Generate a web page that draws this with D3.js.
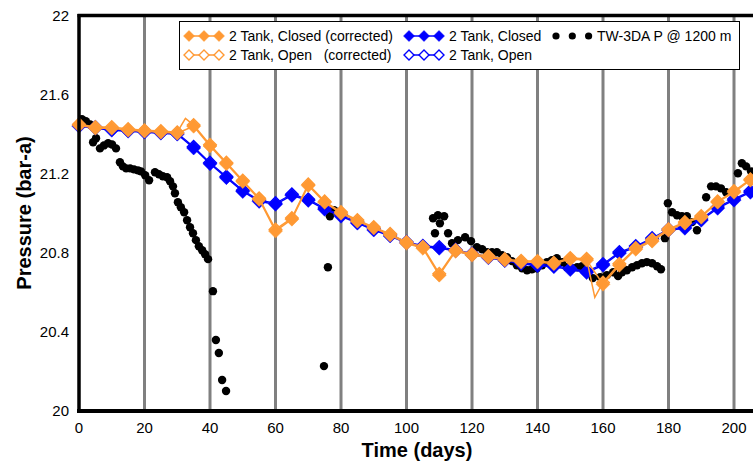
<!DOCTYPE html>
<html><head><meta charset="utf-8">
<script src="https://cdn.jsdelivr.net/npm/d3@7"></script>
<style>
html,body{margin:0;padding:0;background:#fff;}
svg{display:block;font-family:"Liberation Sans",Arial,sans-serif;}
</style></head>
<body><svg id="c" width="753" height="463"></svg>
<script>
// ---- data ----
const simDays = [0,5,10,15,20,25,30,35,40,45,50,55,60,65,70,75,80,85,90,95,100,105,110,115,120,125,130,135,140,145,150,155,160,165,170,175,180,185,190,195,200,205];
const closedCorr = [21.445,21.43,21.43,21.42,21.415,21.41,21.405,21.44,21.34,21.25,21.16,21.07,20.91,20.97,21.14,21.055,21.0,20.96,20.925,20.89,20.848,20.823,20.687,20.808,20.788,20.778,20.763,20.753,20.753,20.745,20.768,20.763,20.641,20.737,20.818,20.859,20.914,20.95,20.98,21.056,21.106,21.167];
const openCorrDays = [0,5,10,15,20,25,30,32.5,35,40,45,50,55,60,65,70,75,80,85,90,95,100,105,110,115,120,125,130,135,140,145,150,155,157.5,160,165,170,175,180,185,190,195,200,205];
const openCorr = [21.45,21.436,21.436,21.426,21.42,21.416,21.41,21.48,21.446,21.346,21.256,21.166,21.076,20.918,20.976,21.146,21.06,21.006,20.966,20.93,20.896,20.854,20.83,20.694,20.814,20.794,20.784,20.768,20.76,20.758,20.75,20.774,20.77,20.575,20.65,20.744,20.824,20.866,20.92,20.956,20.986,21.06,21.112,21.172];
const closed = [21.44,21.43,21.42,21.415,21.41,21.405,21.40,21.33,21.25,21.18,21.11,21.06,21.045,21.09,21.065,21.02,20.985,20.95,20.915,20.885,20.85,20.83,20.823,20.81,20.79,20.775,20.76,20.745,20.735,20.73,20.715,20.70,20.737,20.798,20.828,20.869,20.914,20.924,20.965,21.025,21.066,21.106];
const open = [21.446,21.436,21.426,21.421,21.416,21.411,21.406,21.336,21.256,21.186,21.116,21.066,21.051,21.096,21.071,21.026,20.991,20.956,20.921,20.891,20.856,20.836,20.829,20.816,20.796,20.781,20.766,20.751,20.741,20.736,20.721,20.706,20.743,20.804,20.834,20.875,20.92,20.93,20.971,21.031,21.072,21.112];
const obsDays = [0.9,2.1,3.4,4.3,5.2,6.4,7.6,8.9,10.1,11.3,12.5,13.4,14.4,15.6,16.8,18.0,18.9,20.2,21.4,23.2,24.4,25.6,26.9,27.8,28.7,29.3,30.2,31.1,32.1,33.0,33.9,34.8,35.7,36.6,37.6,38.5,39.4,40.9,41.8,42.7,43.7,44.9,
  74.8,76.0,76.6,77.9,
  108.1,109.6,111.5,110.2,108.7,112.7,113.9,115.7,117.9,119.7,121.5,123.1,124.6,126.1,127.6,129.2,130.7,132.2,133.7,135.3,136.8,138.3,139.8,141.4,142.9,144.4,145.9,147.5,149.0,150.5,152.1,153.6,155.1,156.9,159.1,161.2,163.1,164.6,165.8,167.3,168.9,170.4,171.9,173.4,175.0,176.5,177.7,
  178.9,179.8,181.1,182.6,184.1,185.6,187.2,188.7,191.5,193.0,194.5,196.0,197.6,201.2,202.4,203.7,205.2];
const obsP = [21.475,21.465,21.449,21.359,21.379,21.328,21.343,21.354,21.348,21.328,21.258,21.237,21.227,21.227,21.222,21.217,21.212,21.192,21.167,21.207,21.197,21.187,21.182,21.162,21.136,21.101,21.056,21.030,21.005,20.965,20.929,20.899,20.864,20.833,20.813,20.793,20.768,20.606,20.359,20.293,20.157,20.101,
  20.227,20.727,20.985,21.015,
  20.975,20.990,20.985,20.949,20.899,20.899,20.848,20.864,20.879,20.859,20.828,20.818,20.803,20.803,20.803,20.788,20.778,20.758,20.737,20.722,20.712,20.717,20.722,20.737,20.753,20.763,20.773,20.753,20.727,20.722,20.727,20.732,20.712,20.672,20.677,20.687,20.702,20.682,20.702,20.712,20.727,20.737,20.747,20.753,20.747,20.732,20.717,
  20.874,21.051,21.005,20.990,20.985,20.985,20.955,20.914,21.081,21.136,21.136,21.126,21.106,21.202,21.253,21.237,21.212];
const xTicks = [0,20,40,60,80,100,120,140,160,180,200];
const yTicks = [20,20.4,20.8,21.2,21.6,22];
const yTickLabels = ["20","20.4","20.8","21.2","21.6","22"];
const legendLabels = ["2 Tank, Closed (corrected)","2 Tank, Open   (corrected)","2 Tank, Closed","2 Tank, Open","TW-3DA P @ 1200 m"];

// ---- chart ----
const svg = d3.select("#c");
const orange = "#FF9933", blue = "#0000FF";
const x = d3.scaleLinear().domain([0,220]).range([79, 79+220*3.275]);
const y = d3.scaleLinear().domain([20,22]).range([411,15.5]);
const diamond = r => `M0,${-r}L${r},0L0,${r}L${-r},0Z`;

// grid lines
svg.append("g").selectAll("line").data(xTicks.filter(d=>d>0)).join("line")
  .attr("x1",d=>x(d)).attr("x2",d=>x(d)).attr("y1",y(22)).attr("y2",y(20))
  .attr("stroke","#808080").attr("stroke-width",3);

const plot = svg.append("g");
// observed dots
plot.append("g").selectAll("circle").data(obsDays.map((d,i)=>[d,obsP[i]])).join("circle")
  .attr("cx",d=>x(d[0])).attr("cy",d=>y(d[1])).attr("r",4.2).attr("fill","#000");

function series(daysArr, vals, color, filled, lw, markerFilter){
  const pts = daysArr.map((d,i)=>[d,vals[i]]);
  const g = plot.append("g");
  g.append("path").datum(pts)
    .attr("d", d3.line().x(d=>x(d[0])).y(d=>y(d[1])))
    .attr("fill","none").attr("stroke",color).attr("stroke-width",lw);
  g.selectAll("path.m").data(pts.filter(markerFilter)).join("path").attr("class","m")
    .attr("transform",d=>`translate(${x(d[0])},${y(d[1])})`)
    .attr("d", diamond(filled?7:6.3))
    .attr("fill", filled?color:"#fff").attr("stroke",color).attr("stroke-width",filled?0.5:1.4);
}
series(simDays, open, blue, false, 1.2, d=>true);
series(simDays, closed, blue, true, 1.5, d=>true);
series(openCorrDays, openCorr, orange, false, 1.5, d=>d[0]%5===0);
series(simDays, closedCorr, orange, true, 1.5, d=>true);

// axes frame
svg.append("line").attr("x1",77.5).attr("x2",753).attr("y1",y(22)).attr("y2",y(22)).attr("stroke","#000").attr("stroke-width",3.5);
svg.append("line").attr("x1",x(0)).attr("x2",x(0)).attr("y1",y(22)-1.5).attr("y2",y(20)+2).attr("stroke","#000").attr("stroke-width",3.5);
svg.append("line").attr("x1",77).attr("x2",753).attr("y1",y(20)).attr("y2",y(20)).attr("stroke","#000").attr("stroke-width",4);

// tick labels
svg.append("g").selectAll("text").data(xTicks).join("text")
  .attr("x",d=>x(d)).attr("y",433).attr("text-anchor","middle")
  .attr("font-size",15).attr("fill","#000").text(d=>d);
svg.append("g").selectAll("text").data(yTicks).join("text")
  .attr("x",69).attr("y",d=>y(d)+5).attr("text-anchor","end")
  .attr("font-size",15).attr("fill","#000").text((d,i)=>yTickLabels[i]);

// titles
svg.append("text").attr("x",417).attr("y",457).attr("text-anchor","middle")
  .attr("font-size",20).attr("font-weight","bold").text("Time (days)");
svg.append("text").attr("transform","translate(31,213) rotate(-90)").attr("text-anchor","middle")
  .attr("font-size",20).attr("font-weight","bold").text("Pressure (bar-a)");

// legend
const lg = svg.append("g");
lg.append("rect").attr("x",179.5).attr("y",21.5).attr("width",560).attr("height",48)
  .attr("fill","#fff").attr("stroke","#000").attr("stroke-width",1);
const legItems = [
  {lab:legendLabels[0], x0:189, y0:36, c:orange, f:true, t:"d"},
  {lab:legendLabels[1], x0:189, y0:55, c:orange, f:false, t:"d"},
  {lab:legendLabels[2], x0:409, y0:36, c:blue, f:true, t:"d"},
  {lab:legendLabels[3], x0:409, y0:55, c:blue, f:false, t:"d"},
  {lab:legendLabels[4], x0:556, y0:36, c:"#000", f:true, t:"o"}
];
legItems.forEach(it=>{
  const g = lg.append("g");
  const sp = it.t==="o"?16.3:15;
  if(it.t==="d") g.append("line").attr("x1",it.x0).attr("x2",it.x0+2*sp).attr("y1",it.y0).attr("y2",it.y0).attr("stroke",it.c).attr("stroke-width",1.5);
  [0,1,2].forEach(k=>{
    if(it.t==="d"){
      g.append("path").attr("transform",`translate(${it.x0+k*sp},${it.y0})`).attr("d",diamond(it.f?5.5:5))
        .attr("fill",it.f?it.c:"#fff").attr("stroke",it.c).attr("stroke-width",it.f?0.5:1.4);
    } else {
      g.append("circle").attr("cx",it.x0+k*sp).attr("cy",it.y0).attr("r",3.6).attr("fill","#000");
    }
  });
  g.append("text").attr("x", it.t==="o"?597:it.x0+40).attr("y",it.y0+4.5).attr("font-size",14)
    .attr("fill","#000").style("white-space","pre").text(it.lab);
});
</script></body></html>
